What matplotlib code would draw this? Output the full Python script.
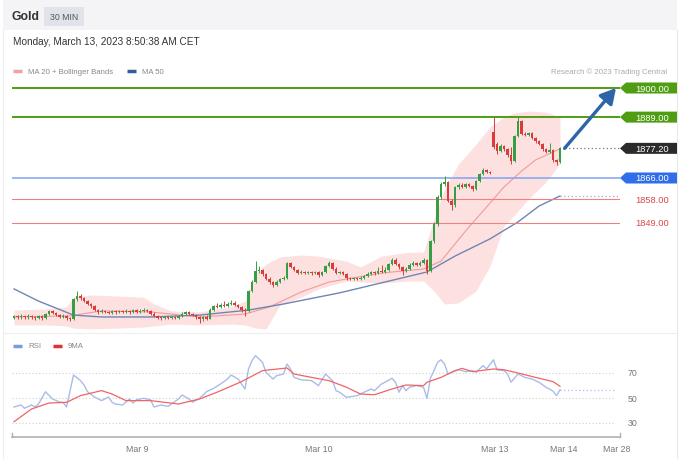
import matplotlib
matplotlib.use("Agg")
import matplotlib.pyplot as plt
from matplotlib.patches import Rectangle, Polygon

plt.rcParams['font.family'] = ['Liberation Sans', 'DejaVu Sans']

# 30 min candles, Mar 8 -> Mar 13 2023
opens = [1813.2, 1813.8, 1813.4, 1813.9, 1813.3, 1813.8, 1813.5, 1813.1, 1813.7, 1813.2,
         1814.6, 1815.8, 1815.0, 1814.4, 1813.6, 1814.0, 1813.2, 1812.7, 1820.3, 1821.6,
         1820.6, 1819.6, 1818.3, 1817.5, 1816.2, 1815.3, 1815.9, 1815.4, 1815.0, 1815.6,
         1815.2, 1815.8, 1815.3, 1815.9, 1815.4, 1816.0, 1815.5, 1815.9, 1816.3, 1815.8,
         1814.8, 1814.0, 1813.2, 1813.0, 1813.4, 1813.1, 1813.5, 1813.2, 1813.9, 1814.7,
         1815.3, 1814.8, 1814.2, 1813.4, 1812.6, 1813.5, 1812.9, 1816.3, 1817.6, 1817.2,
         1818.0, 1817.5, 1818.4, 1818.8, 1818.1, 1817.2, 1816.3, 1815.6, 1823.3, 1826.7,
         1830.9, 1831.2, 1829.6, 1828.0, 1826.6, 1825.6, 1826.8, 1827.8, 1828.4, 1833.8,
         1832.4, 1831.2, 1830.2, 1830.6, 1830.1, 1830.5, 1830.0, 1830.4, 1829.2, 1830.4,
         1832.6, 1834.0, 1831.8, 1830.2, 1830.6, 1829.6, 1828.1, 1827.8, 1828.2, 1827.9,
         1828.4, 1828.9, 1829.8, 1830.4, 1830.0, 1830.9, 1830.6, 1831.4, 1833.4, 1835.2,
         1833.6, 1832.3, 1831.0, 1831.6, 1833.2, 1833.8, 1833.3, 1833.9, 1835.0, 1830.9,
         1842.2, 1848.6, 1858.8, 1863.7, 1864.6, 1857.4, 1855.8, 1862.6, 1863.4, 1862.7,
         1863.6, 1863.1, 1861.8, 1864.9, 1867.4, 1869.0, 1868.4, 1883.4, 1878.8, 1876.2,
         1878.2, 1876.8, 1874.6, 1872.3, 1881.8, 1887.6, 1882.8, 1882.4, 1882.9, 1881.2,
         1879.8, 1879.0, 1876.8, 1876.0, 1876.4, 1872.8, 1872.0]
closes = [1813.8, 1813.4, 1813.9, 1813.3, 1813.8, 1813.5, 1813.1, 1813.7, 1813.2, 1814.6,
          1815.8, 1815.0, 1814.4, 1813.6, 1814.0, 1813.2, 1812.7, 1820.3, 1821.6, 1820.6,
          1819.6, 1818.3, 1817.5, 1816.2, 1815.3, 1815.9, 1815.4, 1815.0, 1815.6, 1815.2,
          1815.8, 1815.3, 1815.9, 1815.4, 1816.0, 1815.5, 1815.9, 1816.3, 1815.8, 1814.8,
          1814.0, 1813.2, 1813.0, 1813.4, 1813.1, 1813.5, 1813.2, 1813.9, 1814.7, 1815.3,
          1814.8, 1814.2, 1813.4, 1812.6, 1813.5, 1812.9, 1816.3, 1817.6, 1817.2, 1818.0,
          1817.5, 1818.4, 1818.8, 1818.1, 1817.2, 1816.3, 1815.6, 1823.3, 1826.7, 1830.9,
          1831.2, 1829.6, 1828.0, 1826.6, 1825.6, 1826.8, 1827.8, 1828.4, 1833.8, 1832.4,
          1831.2, 1830.2, 1830.6, 1830.1, 1830.5, 1830.0, 1830.4, 1829.2, 1830.4, 1832.6,
          1834.0, 1831.8, 1830.2, 1830.6, 1829.6, 1828.1, 1827.8, 1828.2, 1827.9, 1828.4,
          1828.9, 1829.8, 1830.4, 1830.0, 1830.9, 1830.6, 1831.4, 1833.4, 1835.2, 1833.6,
          1832.3, 1831.0, 1831.6, 1833.2, 1833.8, 1833.3, 1833.9, 1835.0, 1830.9, 1842.2,
          1848.6, 1858.8, 1863.7, 1864.6, 1857.4, 1855.8, 1862.6, 1863.4, 1862.7, 1863.6,
          1863.1, 1861.8, 1864.9, 1867.4, 1869.0, 1868.4, 1867.9, 1877.6, 1876.2, 1878.2,
          1876.8, 1874.6, 1872.3, 1881.8, 1887.6, 1882.8, 1882.4, 1882.9, 1881.2, 1879.8,
          1879.0, 1876.8, 1876.0, 1876.4, 1872.8, 1872.0, 1877.2]
highs = [1814.4, 1814.3, 1814.5, 1814.4, 1814.6, 1814.3, 1814.0, 1814.2, 1814.1, 1815.0,
         1816.3, 1816.2, 1815.4, 1814.8, 1814.5, 1814.3, 1813.6, 1820.8, 1823.4, 1822.2,
         1821.0, 1820.0, 1818.8, 1817.9, 1816.6, 1816.4, 1816.3, 1815.8, 1816.0, 1816.1,
         1816.3, 1816.2, 1816.4, 1816.2, 1816.5, 1816.4, 1816.5, 1816.8, 1816.6, 1816.1,
         1815.2, 1814.3, 1813.6, 1813.8, 1813.9, 1813.9, 1813.9, 1814.4, 1815.2, 1815.8,
         1815.6, 1815.1, 1814.5, 1813.8, 1814.0, 1814.1, 1816.8, 1818.2, 1818.6, 1818.9,
         1819.5, 1819.0, 1820.0, 1819.4, 1818.5, 1817.6, 1816.8, 1823.8, 1827.3, 1834.6,
         1832.6, 1831.6, 1830.1, 1828.5, 1827.0, 1827.3, 1828.4, 1829.0, 1834.3, 1834.2,
         1832.8, 1831.7, 1831.1, 1831.0, 1831.0, 1830.9, 1830.9, 1830.7, 1830.9, 1833.1,
         1834.6, 1834.4, 1832.2, 1831.0, 1830.9, 1830.0, 1828.6, 1828.7, 1828.6, 1828.9,
         1829.4, 1830.3, 1830.9, 1830.8, 1832.4, 1833.0, 1832.2, 1833.9, 1835.7, 1835.6,
         1834.0, 1832.7, 1832.4, 1833.8, 1834.5, 1834.2, 1834.6, 1835.6, 1835.3, 1842.7,
         1849.2, 1859.4, 1864.3, 1866.9, 1865.0, 1858.0, 1863.1, 1864.0, 1864.2, 1864.1,
         1864.0, 1863.4, 1865.4, 1867.9, 1869.6, 1869.4, 1868.8, 1889.0, 1879.6, 1878.7,
         1878.6, 1877.2, 1877.8, 1882.3, 1889.2, 1888.0, 1883.3, 1883.4, 1883.3, 1881.6,
         1880.3, 1879.4, 1877.3, 1879.2, 1876.9, 1873.3, 1877.7]
lows = [1812.6, 1812.8, 1812.9, 1812.7, 1812.8, 1812.9, 1812.5, 1812.6, 1812.4, 1812.9,
        1814.3, 1814.6, 1813.8, 1813.2, 1813.1, 1812.4, 1811.9, 1812.3, 1819.6, 1820.0,
        1819.1, 1817.9, 1817.0, 1815.8, 1814.8, 1814.9, 1815.0, 1814.5, 1814.6, 1814.8,
        1814.9, 1814.9, 1815.0, 1814.6, 1815.0, 1815.0, 1815.1, 1815.5, 1815.3, 1814.3,
        1813.5, 1812.8, 1812.5, 1812.6, 1812.7, 1812.8, 1812.7, 1812.9, 1813.6, 1814.4,
        1814.3, 1813.7, 1812.9, 1811.2, 1811.8, 1812.2, 1812.6, 1815.9, 1816.8, 1816.9,
        1817.1, 1817.2, 1818.0, 1817.7, 1816.8, 1815.4, 1814.0, 1815.2, 1822.9, 1826.3,
        1830.2, 1829.0, 1827.5, 1826.0, 1825.0, 1825.1, 1826.4, 1827.4, 1828.0, 1831.9,
        1830.7, 1829.8, 1829.8, 1829.6, 1829.7, 1829.5, 1829.6, 1828.7, 1828.9, 1830.0,
        1832.2, 1831.3, 1829.7, 1829.8, 1829.2, 1827.4, 1827.3, 1827.4, 1827.4, 1827.5,
        1828.0, 1828.5, 1829.3, 1829.5, 1829.6, 1830.1, 1830.2, 1831.0, 1833.0, 1833.1,
        1831.8, 1829.2, 1830.4, 1831.2, 1832.7, 1832.8, 1832.9, 1833.5, 1829.6, 1830.5,
        1841.6, 1848.0, 1858.2, 1863.1, 1856.8, 1854.0, 1855.2, 1862.0, 1862.2, 1862.3,
        1862.5, 1861.0, 1861.4, 1864.5, 1867.0, 1867.9, 1867.4, 1876.9, 1875.0, 1875.8,
        1876.2, 1874.0, 1871.4, 1871.9, 1881.4, 1882.2, 1881.9, 1882.0, 1880.7, 1879.3,
        1878.5, 1876.3, 1875.4, 1875.6, 1872.2, 1870.8, 1871.5]

# Bollinger bands (MA 20) and moving averages, read at candle positions
band_idx = [0, 9, 15, 17, 22, 30, 37, 40, 45, 53, 62, 66, 69, 72, 76, 82, 87, 95, 99, 105,
            113, 117, 120, 123, 127, 132, 136, 140, 143, 147, 152, 156]
band_upper = [1816.1, 1816.5, 1817.3, 1821.0, 1821.8, 1821.4, 1821.0, 1818.4, 1815.8, 1815.4,
              1817.3, 1819.5, 1829.7, 1833.5, 1836.2, 1836.9, 1836.5, 1834.6, 1832.4, 1836.5,
              1838.0, 1838.0, 1850.5, 1861.8, 1871.3, 1878.8, 1885.3, 1889.0, 1890.6, 1891.3,
              1890.9, 1889.0]
band_lower = [1810.5, 1810.5, 1810.1, 1809.3, 1809.0, 1809.3, 1809.7, 1810.1, 1810.8, 1810.5,
              1810.8, 1810.5, 1809.3, 1809.0, 1818.0, 1821.0, 1824.1, 1827.1, 1826.7, 1826.3,
              1827.1, 1827.1, 1823.3, 1818.4, 1818.8, 1823.3, 1832.8, 1847.9, 1852.0, 1858.1,
              1864.5, 1871.3]
ma20_idx = [0, 16, 25, 39, 53, 66, 73, 82, 90, 105, 117, 122, 126, 130, 135, 140, 145, 149, 154, 156]
ma20_val = [1813.5, 1813.9, 1815.8, 1815.4, 1813.5, 1814.6, 1817.3, 1822.9, 1826.7, 1830.1,
            1831.6, 1834.6, 1841.1, 1847.5, 1855.0, 1862.6, 1868.6, 1872.8, 1875.8, 1877.0]
ma50_idx = [0, 7, 17, 25, 39, 53, 67, 77, 93, 118, 126, 136, 144, 150, 156]
ma50_val = [1824.1, 1819.5, 1814.2, 1813.5, 1813.5, 1814.2, 1816.1, 1818.4, 1822.6, 1830.5,
            1836.5, 1843.0, 1849.4, 1855.4, 1859.2]

# RSI and its 9 period MA
rsi_idx = [0, 2, 3, 5, 6, 7, 9, 11, 13, 14, 15, 17, 19, 20, 21, 23, 25, 27, 28, 29, 31, 33, 34,
           35, 37, 39, 40, 42, 44, 45, 47, 48, 50, 51, 53, 54, 55, 57, 59, 61, 62, 64, 65, 66,
           67, 68, 69, 71, 72, 74, 75, 77, 78, 79, 80, 82, 85, 87, 89, 91, 92, 93, 95, 97, 98,
           100, 102, 103, 105, 106, 108, 109, 110, 111, 112, 113, 115, 117, 118, 119, 120, 121,
           122, 123, 124, 125, 127, 129, 131, 132, 134, 135, 137, 138, 140, 141, 142, 144, 146,
           148, 150, 152, 153, 154, 155, 156]
rsi_val = [42.8, 44.4, 41.8, 44.4, 42.8, 45.2, 55.0, 49.2, 46.8, 46.5, 42.8, 68.4, 63.9, 60.4,
           55.0, 50.8, 47.9, 50.8, 46.6, 45.2, 44.4, 49.2, 46.0, 48.6, 49.7, 48.6, 42.8, 44.4,
           43.3, 45.2, 49.2, 52.4, 49.2, 46.6, 49.7, 52.4, 55.0, 57.7, 61.2, 65.2, 68.4, 65.2,
           61.2, 57.2, 73.2, 79.9, 83.9, 78.5, 70.5, 65.2, 67.8, 69.2, 77.2, 73.2, 66.5, 64.6,
           63.9, 59.9, 69.2, 63.9, 55.9, 54.6, 50.6, 51.4, 51.9, 54.6, 57.2, 55.9, 61.2, 62.6,
           65.8, 62.6, 54.6, 59.9, 55.9, 58.6, 59.9, 58.6, 49.7, 66.0, 71.9, 78.5, 80.6, 77.2,
           69.2, 70.5, 72.6, 71.1, 71.9, 70.5, 75.9, 73.2, 80.6, 72.6, 71.9, 69.2, 62.6, 69.2,
           66.5, 65.2, 62.6, 58.6, 57.2, 55.5, 51.9, 56.6]
sma_idx = [0, 5, 10, 15, 19, 25, 28, 32, 39, 47, 53, 58, 65, 71, 78, 80, 85, 90, 95, 99, 103,
           108, 112, 117, 118, 122, 126, 128, 131, 137, 140, 144, 149, 154, 156]
sma_val = [31.0, 41.2, 46.0, 46.5, 51.9, 55.9, 53.2, 47.9, 47.9, 45.2, 49.2, 54.6, 63.1, 71.9,
           74.0, 69.2, 66.5, 63.9, 58.6, 53.2, 52.6, 57.2, 60.4, 59.9, 62.6, 66.5, 71.9, 73.7,
           71.1, 73.2, 72.6, 70.0, 66.5, 63.1, 59.4]

date_ticks = [35.1, 87.1, 137.4, 157.1, 172.3]
date_labels = ['Mar 9', 'Mar 10', 'Mar 13', 'Mar 14', 'Mar 28']

resistances = [1900.0, 1889.0]
pivot = 1866.0
supports = [1858.0, 1849.0]
last_price = 1877.20
target = 1900.0

W, H = 681, 460
PX_PER_USD = 2.647


def px2i(x):
    return (x - 14) / 3.5


def y2price(y):
    return 1900 - (y - 89) / PX_PER_USD


def y2rsi(y):
    return 70 - (y - 374) / 1.25


fig = plt.figure(figsize=(W / 100, H / 100), dpi=100)

# decorations in pixel coords
ov = fig.add_axes([0, 0, 1, 1], zorder=0)
ov.set_xlim(0, W)
ov.set_ylim(H, 0)
ov.axis('off')
ov.add_patch(Rectangle((3, 0), 674, 31, fc='#f4f4f6', ec='none'))
ov.add_patch(Rectangle((44, 8), 40, 19, fc='#e1e3ea', ec='none'))
ov.text(12, 17.5, 'Gold', fontsize=8.8, fontweight='bold', color='#333333', va='center')
ov.text(64, 17.5, '30 MIN', fontsize=6.3, color='#555555', va='center', ha='center')
ov.text(13, 42, 'Monday, March 13, 2023 8:50:38 AM CET', fontsize=7.2, color='#333333', va='center')
ov.plot([13, 22], [72, 72], color='#f4a0a0', lw=2.5, solid_capstyle='butt')
ov.text(28, 72, 'MA 20 + Bollinger Bands', fontsize=5.6, color='#888888', va='center')
ov.plot([127, 136], [72, 72], color='#2f5fa0', lw=2.5, solid_capstyle='butt')
ov.text(142, 72, 'MA 50', fontsize=5.6, color='#888888', va='center')
ov.text(667, 72, 'Research \u00a9 2023 Trading Central', fontsize=5.6, color='#aaaaaa',
        va='center', ha='right')
ov.plot([3, 677], [334, 334], color='#eeeeee', lw=0.8)
ov.plot([677, 677], [31, 460], color='#e8e8e8', lw=0.8)
ov.plot([3, 3], [31, 460], color='#eeeeee', lw=0.8)
ov.plot([13, 22], [347, 347], color='#7b9be0', lw=2.5, solid_capstyle='butt')
ov.text(28, 347, 'RSI', fontsize=5.6, color='#888888', va='center')
ov.plot([53, 62], [347, 347], color='#e03030', lw=2.5, solid_capstyle='butt')
ov.text(68, 347, '9MA', fontsize=5.6, color='#888888', va='center')

# price panel
ax = fig.add_axes([12 / W, 1 - 335 / H, 608 / W, 255 / H], zorder=2)
ax.patch.set_alpha(0)
ax.set_xlim(px2i(12), px2i(620))
ax.set_ylim(y2price(335), y2price(80))
ax.axis('off')
xl, xr = ax.get_xlim()

ax.fill_between(band_idx, band_lower, band_upper, color='#fde1e1', lw=0, zorder=1)
ax.plot(ma20_idx, ma20_val, color='#f19a9a', lw=0.8, zorder=2)
ax.plot(ma50_idx, ma50_val, color='#6f86b5', lw=1.0, zorder=2)
ax.plot([ma50_idx[-1], xr], [ma50_val[-1]] * 2, color='#aaaaaa', lw=0.9, ls=(0, (1, 2)))

for lvl in resistances:
    ax.plot([xl, xr], [lvl, lvl], color='#4f9d12', lw=1.4, zorder=3)
ax.plot([xl, xr], [pivot, pivot], color='#7ea3f0', lw=1.1, zorder=3)
for lvl in supports:
    ax.plot([xl, xr], [lvl, lvl], color='#f08080', lw=0.8, zorder=3)
ax.plot([len(closes) + 0.3, xr], [last_price, last_price], color='#777777', lw=0.9,
        ls=(0, (1, 2)), zorder=3)

for i in range(len(closes)):
    o, c = opens[i], closes[i]
    col = '#35a043' if c >= o else '#dc3b3b'
    ax.vlines(i, lows[i], highs[i], color=col, lw=0.7, zorder=4)
    ax.bar(i, max(abs(c - o), 0.4), bottom=min(o, c), width=0.8, color=col, lw=0, zorder=5)

ax.annotate('', xy=(px2i(616), target), xytext=(len(closes) + 0.3, last_price),
            arrowprops=dict(arrowstyle='-|>,head_length=0.9,head_width=0.5', color='#2d64aa',
                            lw=2.4, shrinkA=0, shrinkB=0), zorder=6)


def price_tag(price, text, fc, tc):
    h = 5.5 / PX_PER_USD
    x0, x1, x2 = px2i(620), px2i(626), px2i(677)
    if fc is not None:
        ax.add_patch(Polygon([(x0, price), (x1, price + h), (x2, price + h), (x2, price - h),
                              (x1, price - h)], closed=True, fc=fc, ec='none', clip_on=False))
    ax.text(px2i(652), price, text, fontsize=6.7, color=tc, ha='center', va='center',
            clip_on=False)


for lvl in resistances:
    price_tag(lvl, f'{lvl:.2f}', '#4f9d12', 'white')
price_tag(last_price, f'{last_price:.2f}', '#2b2b2b', 'white')
price_tag(pivot, f'{pivot:.2f}', '#2f6ee8', 'white')
for lvl in supports:
    price_tag(lvl, f'{lvl:.2f}', None, '#e04848')

# RSI panel
axr = fig.add_axes([12 / W, 1 - 438 / H, 608 / W, 98 / H], zorder=2)
axr.patch.set_alpha(0)
axr.set_xlim(px2i(12), px2i(620))
axr.set_ylim(y2rsi(438), y2rsi(340))
for s in ['top', 'left', 'right']:
    axr.spines[s].set_visible(False)
axr.spines['bottom'].set_color('#b0b0b0')
axr.spines['bottom'].set_linewidth(1.2)
axr.set_yticks([])
axr.set_xticks(date_ticks)
axr.set_xticklabels(date_labels, fontsize=6.3, color='#777777')
axr.tick_params(axis='x', length=0, pad=5)
for xe in axr.get_xlim():
    axr.plot([xe, xe], [y2rsi(438), y2rsi(434)], color='#b0b0b0', lw=1.0, clip_on=False)

for lvl in [70, 50, 30]:
    axr.plot([axr.get_xlim()[0], px2i(615)], [lvl, lvl], color='#d0d0d0', lw=0.8, ls=(0, (1, 2)))
    axr.text(px2i(628), lvl, str(lvl), fontsize=6.3, color='#777777', va='center', clip_on=False)
axr.plot(rsi_idx, rsi_val, color='#a9bde8', lw=1.0)
axr.plot(sma_idx, sma_val, color='#f06464', lw=0.9)
axr.plot([rsi_idx[-1], px2i(615)], [rsi_val[-1]] * 2, color='#a9bde8', lw=0.9, ls=(0, (1, 2)))

fig.savefig('out.png', dpi=100)
